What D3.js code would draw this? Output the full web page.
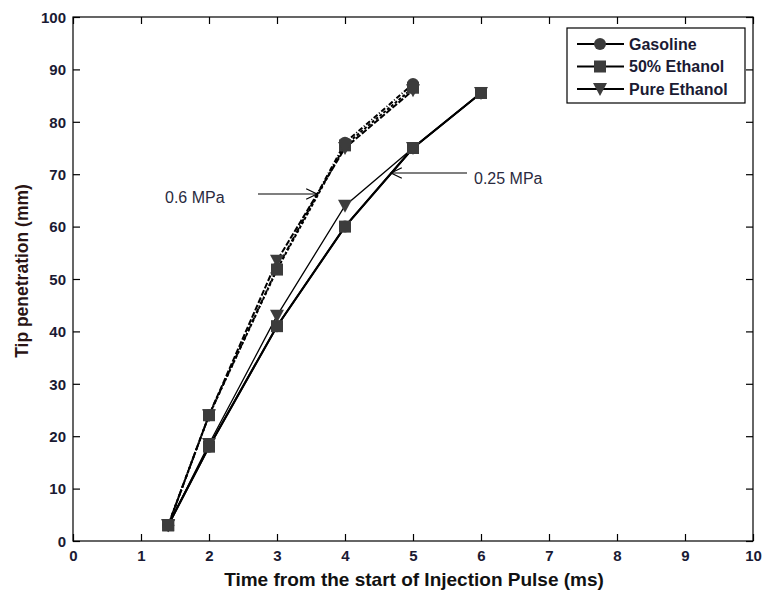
<!DOCTYPE html>
<html><head><meta charset="utf-8">
<script src="https://cdn.jsdelivr.net/npm/d3@7"></script>
<style>body{margin:0;background:#fff}svg{display:block}</style>
</head><body>
<svg id="c" width="764" height="594"></svg>
<script>
// Data
const seriesNames = ["Gasoline", "50% Ethanol", "Pure Ethanol"];
const markerTypes = ["circle", "square", "triangle"];
// 0.6 MPa (dashed)
const t06 = [1.4, 2, 3, 4, 5];
const gas06 = [3, 24, 52, 76, 87.2];
const eth50_06 = [3, 24, 51.8, 75.5, 86.5];
const pure06 = [3, 24, 53.5, 75, 86];
// 0.25 MPa (solid)
const t025 = [1.4, 2, 3, 4, 5, 6];
const gas025 = [3, 18, 41, 60, 75, 85.5];
const eth50_025 = [3, 18, 41, 60, 75, 85.5];
const pure025 = [3, 18.5, 43, 64, 75, 85.5];
const xTicks = [0,1,2,3,4,5,6,7,8,9,10];
const yTicks = [0,10,20,30,40,50,60,70,80,90,100];

const svg = d3.select("#c");
const L = 73, R = 753, T = 17, B = 541;
const x = d3.scaleLinear().domain([0,10]).range([L,R]);
const y = d3.scaleLinear().domain([0,100]).range([B,T]);
const tickFont = "'Liberation Sans',Arial,sans-serif";

// frame
svg.append("rect").attr("x",L).attr("y",T).attr("width",R-L).attr("height",B-T)
  .attr("fill","none").attr("stroke","#000").attr("stroke-width",1.2);

// axes with inward ticks
const xb = svg.append("g").attr("transform",`translate(0,${B})`)
  .call(d3.axisBottom(x).tickValues(xTicks).tickSize(-7).tickPadding(9).tickFormat(d3.format("d")));
const xt = svg.append("g").attr("transform",`translate(0,${T})`)
  .call(d3.axisTop(x).tickValues(xTicks).tickSize(-7).tickFormat(""));
const yl = svg.append("g").attr("transform",`translate(${L},0)`)
  .call(d3.axisLeft(y).tickValues(yTicks).tickSize(-7).tickPadding(7).tickFormat(d3.format("d")));
const yr = svg.append("g").attr("transform",`translate(${R},0)`)
  .call(d3.axisRight(y).tickValues(yTicks).tickSize(-7).tickFormat(""));
[xb,xt,yl,yr].forEach(g=>{
  g.select(".domain").remove();
  g.selectAll(".tick line").attr("stroke","#000").attr("stroke-width",1.2);
  g.selectAll("text").attr("font-family",tickFont).attr("font-weight","bold")
   .attr("font-size",15).attr("fill","#1a1a33");
});
yl.selectAll("text").attr("dy","0.35em");

// axis labels
svg.append("text").attr("x",414).attr("y",586).attr("text-anchor","middle")
  .attr("font-family","'Liberation Sans',Arial,sans-serif").attr("font-weight","bold")
  .attr("font-size",19).attr("fill","#111").text("Time from the start of Injection Pulse (ms)");
svg.append("text").attr("transform",`translate(28,271) rotate(-90)`).attr("text-anchor","middle")
  .attr("font-family","'Liberation Sans',Arial,sans-serif").attr("font-weight","bold")
  .attr("font-size",17.5).attr("fill","#2a1414").text("Tip penetration (mm)");

const line = d3.line().x(d=>x(d[0])).y(d=>y(d[1]));
const mk = "#3c3c3c";
function marker(g, type, cx, cy){
  if(type==="circle") g.append("circle").attr("cx",cx).attr("cy",cy).attr("r",6).attr("fill",mk);
  else if(type==="square") g.append("rect").attr("x",cx-6).attr("y",cy-6).attr("width",12).attr("height",12).attr("fill",mk);
  else g.append("path").attr("d",`M${cx-7},${cy-6}L${cx+7},${cy-6}L${cx},${cy+7}Z`).attr("fill",mk);
}

const sets06 = [gas06, eth50_06, pure06];
const sets025 = [gas025, eth50_025, pure025];
const plot = svg.append("g");
// dashed 0.6 MPa
sets06.forEach((vals,i)=>{
  plot.append("path").datum(t06.map((t,j)=>[t,vals[j]])).attr("d",line)
    .attr("fill","none").attr("stroke","#000").attr("stroke-width",2)
    .attr("stroke-dasharray",i===0?"5,2,1,2":(i===1?"3,2":"6,2"));
});
// solid 0.25 MPa
sets025.forEach((vals,i)=>{
  plot.append("path").datum(t025.map((t,j)=>[t,vals[j]])).attr("d",line)
    .attr("fill","none").attr("stroke","#000").attr("stroke-width",i===2?1.3:2);
});
// markers
[[t06,sets06],[t025,sets025]].forEach(([ts,sets])=>{
  sets.forEach((vals,i)=>{
    ts.forEach((t,j)=>marker(plot, markerTypes[i], x(t), y(vals[j])));
  });
});

// annotations
function arrow(x1,y1,x2,y2){
  svg.append("line").attr("x1",x1).attr("y1",y1).attr("x2",x2).attr("y2",y2)
    .attr("stroke","#000").attr("stroke-width",1.2);
  const a = Math.atan2(y2-y1,x2-x1), len=12, w=0.45;
  const p1=[x2-len*Math.cos(a-w), y2-len*Math.sin(a-w)];
  const p2=[x2-len*Math.cos(a+w), y2-len*Math.sin(a+w)];
  svg.append("path").attr("d",`M${p1}L${x2},${y2}L${p2}`).attr("fill","none")
    .attr("stroke","#000").attr("stroke-width",1.2);
}
arrow(258,194,317,194);
svg.append("text").attr("x",165).attr("y",203).attr("font-family","'Liberation Sans',Arial,sans-serif")
  .attr("font-size",16).attr("fill","#2a2a40").text("0.6 MPa");
arrow(467,173,391,173);
svg.append("text").attr("x",474).attr("y",184).attr("font-family","'Liberation Sans',Arial,sans-serif")
  .attr("font-size",16).attr("fill","#2a2a40").text("0.25 MPa");

// legend
const lg = svg.append("g");
lg.append("rect").attr("x",567).attr("y",28).attr("width",178).attr("height",75)
  .attr("fill","#fff").attr("stroke","#000").attr("stroke-width",1.2);
seriesNames.forEach((n,i)=>{
  const yy = 44 + i*22.5;
  lg.append("line").attr("x1",577).attr("x2",624).attr("y1",yy).attr("y2",yy).attr("stroke","#000").attr("stroke-width",2);
  marker(lg, markerTypes[i], 600, yy);
  lg.append("text").attr("x",629).attr("y",yy+5.5).attr("font-family","'Liberation Sans',Arial,sans-serif")
    .attr("font-weight","bold").attr("font-size",16).attr("fill","#1a1a33").text(n);
});
</script>
</body></html>
